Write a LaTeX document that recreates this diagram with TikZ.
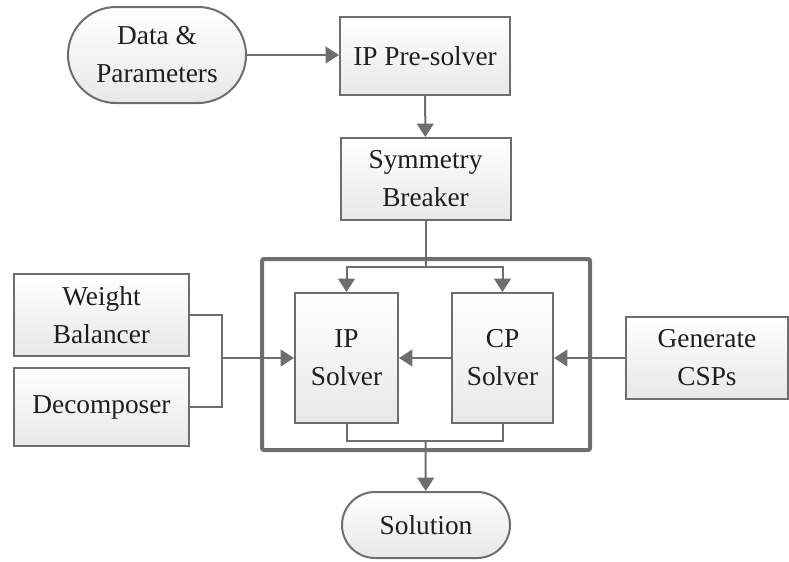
\documentclass[tikz,border=0pt]{standalone}
\usepackage{fontspec}
\setmainfont{Liberation Serif}
\usetikzlibrary{arrows.meta}
\definecolor{linegray}{HTML}{6E6E6E}
\definecolor{textdark}{HTML}{1E1E1E}

\begin{document}
\begin{tikzpicture}[x=0.75pt, y=-0.75pt,
    every node/.style={font=\fontsize{20.5}{28.5}\selectfont, text=textdark, align=center},
    block/.style={draw=linegray, line width=1.5pt, top color=white, bottom color=black!9, inner sep=0pt},
    terminal/.style={block, rounded corners=#1},
    link/.style={draw=linegray, line width=1.5pt},
    arrow/.style={link, -{Triangle[length=10pt,width=12.5pt]}}]
    \useasboundingbox (0,0) rectangle (789,561);

    % solver frame
    \draw[linegray, line width=3pt, rounded corners=1.5pt] (262,259) rectangle (590,450);

    % blocks
    \node[terminal=36pt, minimum width=133.5pt, minimum height=72pt] (data) at (157,55) {Data \&\\Parameters};
    \node[block, minimum width=127.5pt, minimum height=58.5pt] (pre) at (425,56) {IP Pre-solver};
    \node[block, minimum width=127.5pt, minimum height=61.5pt] (sym) at (425.5,179) {Symmetry\\Breaker};
    \node[block, minimum width=77.25pt, minimum height=97.5pt] (ips) at (346.5,358) {IP\\Solver};
    \node[block, minimum width=75.75pt, minimum height=97.5pt] (cps) at (502.5,358) {CP\\Solver};
    \node[block, minimum width=131.25pt, minimum height=61.5pt] (wb) at (101.5,315) {Weight\\Balancer};
    \node[block, minimum width=131.25pt, minimum height=58.5pt] (dec) at (101.5,407) {Decomposer};
    \node[block, minimum width=121.5pt, minimum height=61.5pt] (gen) at (707,358) {Generate\\CSPs};
    \node[terminal=24.75pt, minimum width=126pt, minimum height=49.5pt] (sol) at (426,525) {Solution};

    % junctions
    \coordinate (split) at (425.5,267);
    \coordinate (join) at (222,358);
    \coordinate (merge) at (425.5,441);

    % connectors
    \draw[arrow] (data.east) -- (data.east -| pre.west);
    \draw[arrow] (pre) -- (sym);
    \draw[link] (sym) -- (split);
    \draw[arrow] (split) -| (ips);
    \draw[arrow] (split) -| (cps);
    \draw[arrow] (cps) -- (ips);
    \draw[arrow] (gen) -- (cps);
    \draw[link] (wb.east) -| (join);
    \draw[link] (dec.east) -| (join);
    \draw[arrow] (join) -- (ips);
    \draw[link] (ips.south) -- (ips.south |- merge) -- (cps.south |- merge) -- (cps.south);
    \draw[arrow] (merge) -- (sol);
\end{tikzpicture}
\end{document}
